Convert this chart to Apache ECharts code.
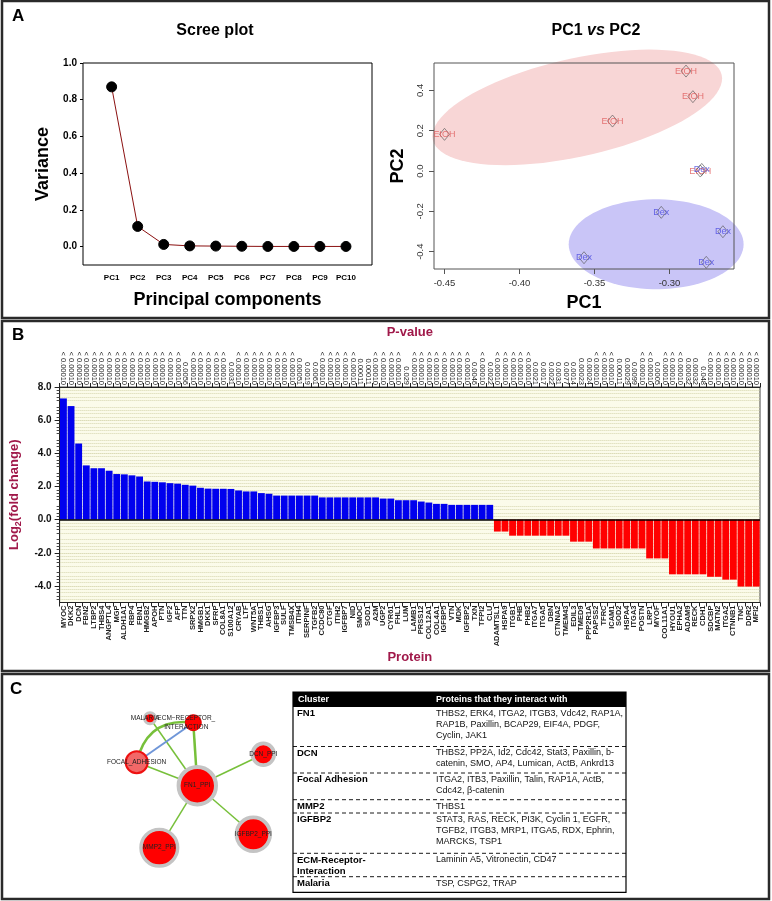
<!DOCTYPE html>
<html>
<head>
<meta charset="utf-8">
<script src="https://cdn.jsdelivr.net/npm/echarts@6/dist/echarts.min.js"></script>
<style>
html, body { margin: 0; padding: 0; background: #fff; }
#container { width: 772px; height: 901px; }
</style>
</head>
<body>
<div id="container"></div>
<script>
var chartDom = document.getElementById('container');
var myChart = echarts.init(chartDom);
var font = 'Liberation Sans, Arial, sans-serif';
var option;

// ---- panel A: scree plot ----
var screeLabels = ['PC1', 'PC2', 'PC3', 'PC4', 'PC5', 'PC6', 'PC7', 'PC8', 'PC9', 'PC10'];
var screeVariance = [0.87, 0.11, 0.012, 0.004, 0.003, 0.002, 0.001, 0.001, 0.001, 0.001];
var screeTicks = [0, 0.2, 0.4, 0.6, 0.8, 1.0];

// ---- panel A: PC1 vs PC2 scores ----
var etohScores = [[-0.289, 0.496], [-0.2844, 0.369], [-0.338, 0.248], [-0.450, 0.182], [-0.2795, 0.0]];
var dexScores = [[-0.2785, 0.008], [-0.3055, -0.205], [-0.2644, -0.301], [-0.357, -0.430], [-0.2755, -0.453]];
// ellipse: centre, end of major axis, end of minor axis
var etohEllipse = [-0.3615, 0.3158, -0.2652, 0.4770, -0.3687, 0.5529];
var dexEllipse = [-0.3089, -0.3633, -0.2506, -0.3633, -0.3089, -0.1404];
var pc1Ticks = [-0.45, -0.40, -0.35, -0.30];
var pc2Ticks = [-0.4, -0.2, 0, 0.2, 0.4];

// ---- panel B ----
var proteins = ['MYOC', 'DKK2', 'DCN', 'FBN2', 'LTBP2', 'THBS4', 'ANGPTL4', 'MGP', 'ALDH1A1', 'RBP4',
  'FBN1', 'HMGB2', 'APOH', 'PTN', 'IGF2', 'AFP', 'TTN', 'SRPX2', 'HMGB1', 'DKK1',
  'SFRP', 'COL8A1', 'S100A12', 'CRYAB', 'LTF', 'WNT5A', 'THBS1', 'AHSG', 'IGFBP3', 'SULF',
  'TMSB4X', 'ITIH4', 'SERPINF', 'TGFB2', 'CCDC80', 'CTGF', 'ITIH2', 'IGFBP7', 'NID', 'SMOC',
  'SOD1', 'A2M', 'UGP2', 'CYR61', 'FHL1', 'LUM', 'LAMB1', 'PRSS12', 'COL12A1', 'COL4A1',
  'IGFBP5', 'VTN', 'MDK', 'IGFBP2', 'TXN', 'TFPI2', 'CLU', 'ADAMTSL1', 'HSPA9', 'ITGB1',
  'PHB', 'PHB2', 'ITGA7', 'ITGA5', 'DBN', 'CTNNA2', 'TMEM43', 'EDIL3', 'TMED9', 'PPP2R1A',
  'PAPSS2', 'TFRC', 'ICAM1', 'SOD2', 'HSPA4', 'ITGA3', 'POSTN', 'LRP1', 'MYOF', 'COL11A1',
  'HYOU1', 'EPHA2', 'ADAM9', 'RECK', 'CDH1', 'SDCBP', 'MATN2', 'ITGA2', 'CTNNB1', 'TNC',
  'DDR2', 'MFI2'];
var log2Fold = [7.31, 6.85, 4.59, 3.27, 3.1, 3.1, 2.95, 2.75, 2.73, 2.67,
  2.6, 2.3, 2.28, 2.25, 2.2, 2.17, 2.1, 2.05, 1.92, 1.87,
  1.86, 1.86, 1.85, 1.76, 1.7, 1.7, 1.6, 1.56, 1.45, 1.45,
  1.45, 1.45, 1.45, 1.45, 1.34, 1.34, 1.34, 1.34, 1.34, 1.34,
  1.34, 1.34, 1.27, 1.27, 1.17, 1.17, 1.17, 1.09, 1.03, 0.95,
  0.95, 0.89, 0.89, 0.89, 0.89, 0.89, 0.89, -0.72, -0.72, -0.97,
  -0.97, -0.97, -0.97, -0.97, -0.97, -0.97, -0.97, -1.33, -1.33, -1.33,
  -1.74, -1.74, -1.74, -1.74, -1.74, -1.74, -1.74, -2.34, -2.34, -2.34,
  -3.3, -3.3, -3.3, -3.3, -3.3, -3.45, -3.45, -3.62, -3.62, -4.04,
  -4.04, -4.04];
var L = '< 0.00010';
var pValues = [L, L, L, L, L, L, L, L, L, L,
  L, L, L, L, L, L, '0.0056', L, L, L,
  L, L, '0.0031', L, L, L, L, L, L, L,
  L, '0.00051', '0.0019', '0.0061', L, L, L, L, L, '0.00011',
  '0.00011', L, L, L, L, '0.029', L, L, L, L,
  L, L, L, L, '0.0046', L, '0.0022', L, L, L,
  L, L, '0.0021', '0.0017', '0.0022', '0.0031', '0.0077', '0.0014', '0.00023', '0.00024',
  L, L, L, '0.00011', '0.00029', '0.0099', L, L, '0.0005', L,
  L, L, '0.00032', '0.00032', '0.048', L, L, L, L, L,
  L, L];
var foldTicks = [-4, -2, 0, 2, 4, 6, 8];

// ---- panel C: network ----
var netNames = ['FN1_PPI', 'DCN_PPI', 'IGFBP2_PPI', 'MMP2_PPI', 'FOCAL_ADHESION', 'ECM_RECEPTOR_INTERACTION', 'MALARIA'];
var netLabels = ['FN1_PPI', 'DCN_PPI', 'IGFBP2_PPI', 'MMP2_PPI', 'FOCAL_ADHESION', 'ECM\u2212RECEPTOR_\nINTERACTION', 'MALARIA'];
var netLinks = [
  ['FN1_PPI', 'MALARIA'], ['FN1_PPI', 'ECM_RECEPTOR_INTERACTION'], ['FN1_PPI', 'FOCAL_ADHESION'],
  ['FN1_PPI', 'DCN_PPI'], ['FN1_PPI', 'IGFBP2_PPI'], ['FN1_PPI', 'MMP2_PPI'],
  ['FOCAL_ADHESION', 'ECM_RECEPTOR_INTERACTION'], ['FOCAL_ADHESION', 'ECM_RECEPTOR_INTERACTION']
];

// ---- panel C: table ----
var clusters = ['FN1', 'DCN', 'Focal Adhesion', 'MMP2', 'IGFBP2', 'ECM-Receptor-\nInteraction', 'Malaria'];
var partners = [
  'THBS2, ERK4, ITGA2, ITGB3, Vdc42, RAP1A,\nRAP1B, Paxillin, BCAP29, EIF4A, PDGF,\nCyclin, JAK1',
  'THBS2, PP2A, Id2, Cdc42, Stat3, Paxillin, b-\ncatenin, SMO, AP4, Lumican, ActB, Ankrd13',
  'ITGA2, ITB3, Paxillin, Talin, RAP1A, ActB,\nCdc42, \u03b2-catenin',
  'THBS1',
  'STAT3, RAS, RECK, PI3K, Cyclin 1, EGFR,\nTGFB2, ITGB3, MRP1, ITGA5, RDX, Ephrin,\nMARCKS, TSP1',
  'Laminin A5, Vitronectin, CD47',
  'TSP, CSPG2, TRAP'
];

// layout of the network (pixel positions on the page) and node looks
var netLayout = {
  'FN1_PPI': [197.3, 785.7], 'DCN_PPI': [263.3, 754.3], 'IGFBP2_PPI': [253.3, 834.3],
  'MMP2_PPI': [159.3, 847.7], 'FOCAL_ADHESION': [136.7, 762.3],
  'ECM_RECEPTOR_INTERACTION': [193.3, 722.7], 'MALARIA': [150, 718.3]
};
var nodeLook = {
  'FN1_PPI': { size: 37.4, color: '#ff0000', border: '#c4c4c4', bw: 4 },
  'DCN_PPI': { size: 21.7, color: '#ff0000', border: '#c4c4c4', bw: 3.7 },
  'IGFBP2_PPI': { size: 33.7, color: '#ff0000', border: '#c4c4c4', bw: 3.7 },
  'MMP2_PPI': { size: 36.7, color: '#ff0000', border: '#c4c4c4', bw: 3.4 },
  'FOCAL_ADHESION': { size: 22, color: '#f26868', border: '#ee1111', bw: 2 },
  'ECM_RECEPTOR_INTERACTION': { size: 16, color: '#ff0000', border: '#e00000', bw: 1 },
  'MALARIA': { size: 11, color: '#ff0000', border: '#c4c4c4', bw: 3 }
};
var labelShift = { 'ECM_RECEPTOR_INTERACTION': [-7, 0], 'MALARIA': [-5, 0] };

function renderEllipse(params, api) {
  var c = api.coord([api.value(0), api.value(1)]);
  var m = api.coord([api.value(2), api.value(3)]);
  var n = api.coord([api.value(4), api.value(5)]);
  var pts = [];
  for (var k = 0; k < 90; k++) {
    var t = k / 90 * Math.PI * 2;
    pts.push([
      c[0] + Math.cos(t) * (m[0] - c[0]) + Math.sin(t) * (n[0] - c[0]),
      c[1] + Math.cos(t) * (m[1] - c[1]) + Math.sin(t) * (n[1] - c[1])
    ]);
  }
  return { type: 'polygon', shape: { points: pts }, style: { fill: api.visual('color') } };
}

// ---- static page elements: frames, letters, titles, table ----
var graphics = [];
[[2, 1, 767, 317], [2, 321, 767, 350], [2, 674, 767, 225]].forEach(function (r) {
  graphics.push({ type: 'rect', z: 20, shape: { x: r[0], y: r[1], width: r[2], height: r[3] },
    style: { fill: 'none', stroke: '#2a2a2a', lineWidth: 2.5 } });
});
[['A', 12, 8], ['B', 12, 327], ['C', 10, 681]].forEach(function (p) {
  graphics.push({ type: 'text', z: 20, style: { text: p[0], x: p[1], y: p[2], fill: '#000',
    font: 'bold 17px ' + font } });
});
graphics.push({ type: 'text', z: 20, style: { text: 'Scree plot', x: 215, y: 31, fill: '#000',
  font: 'bold 16px ' + font, align: 'center', verticalAlign: 'middle', textAlign: 'center', textVerticalAlign: 'middle' } });
graphics.push({ type: 'text', z: 20, style: { text: '{b|PC1 }{i|vs}{b| PC2}', x: 596, y: 31,
  align: 'center', verticalAlign: 'middle', textAlign: 'center', textVerticalAlign: 'middle',
  rich: { b: { font: 'bold 16px ' + font, fill: '#000' }, i: { font: 'italic bold 16px ' + font, fill: '#000' } } } });

var tX = 293, tW = 333, tTop = 692, tBottom = 892.3;
var rowTops = [707, 746.5, 773, 799.7, 813, 853.3, 876.7];
graphics.push({ type: 'rect', z: 10, shape: { x: tX, y: tTop, width: tW, height: tBottom - tTop },
  style: { fill: '#fff', stroke: '#000', lineWidth: 1.2 } });
graphics.push({ type: 'rect', z: 11, shape: { x: tX, y: tTop, width: tW, height: rowTops[0] - tTop },
  style: { fill: '#000' } });
graphics.push({ type: 'text', z: 12, style: { text: 'Cluster', x: tX + 5, y: (tTop + rowTops[0]) / 2,
  fill: '#fff', font: 'bold 9px ' + font, verticalAlign: 'middle', textVerticalAlign: 'middle' } });
graphics.push({ type: 'text', z: 12, style: { text: 'Proteins that they interact with', x: 436, y: (tTop + rowTops[0]) / 2,
  fill: '#fff', font: 'bold 9px ' + font, verticalAlign: 'middle', textVerticalAlign: 'middle' } });
for (var r = 0; r < clusters.length; r++) {
  if (r > 0) {
    graphics.push({ type: 'line', z: 11, shape: { x1: tX, y1: rowTops[r], x2: tX + tW, y2: rowTops[r] },
      style: { stroke: '#000', lineWidth: 0.9, lineDash: [4, 3] } });
  }
  graphics.push({ type: 'text', z: 12, style: { text: clusters[r], x: tX + 4, y: rowTops[r] + 1,
    fill: '#000', font: 'bold 9.5px ' + font, lineHeight: 11.4, verticalAlign: 'top', textVerticalAlign: 'top' } });
  graphics.push({ type: 'text', z: 12, style: { text: partners[r], x: 436, y: rowTops[r] + 1,
    fill: '#111', font: '9px ' + font, lineHeight: 11, verticalAlign: 'top', textVerticalAlign: 'top' } });
}

option = {
  animation: false,
  backgroundColor: '#fff',
  textStyle: { fontFamily: font },
  grid: [
    { left: 83, top: 63, width: 289, height: 202, show: true, borderColor: '#000', borderWidth: 1, backgroundColor: 'transparent' },
    { left: 434, top: 63, width: 300, height: 206, show: true, borderColor: '#555', borderWidth: 1, backgroundColor: 'transparent' },
    { left: 59, top: 387, width: 701, height: 215.5, show: true, borderColor: '#444', borderWidth: 1, backgroundColor: '#fbfbea' },
    { left: 0, top: 0, width: 772, height: 901, show: false }
  ],
  xAxis: [
    {
      gridIndex: 0, type: 'value', min: -0.1, max: 11,
      name: 'Principal components', nameLocation: 'middle', nameGap: 26,
      nameTextStyle: { fontSize: 18, fontWeight: 'bold', color: '#000' },
      axisLine: { show: false, onZero: false }, splitLine: { show: false },
      axisTick: { show: false },
      axisLabel: { customValues: [1, 2, 3, 4, 5, 6, 7, 8, 9, 10], margin: 9, fontSize: 8, fontWeight: 'bold', color: '#000',
        formatter: function (v) { return screeLabels[Math.round(v) - 1]; } }
    },
    {
      gridIndex: 1, type: 'value', min: -0.457, max: -0.257,
      name: 'PC1', nameLocation: 'middle', nameGap: 25,
      nameTextStyle: { fontSize: 18, fontWeight: 'bold', color: '#000' },
      axisLine: { show: false, onZero: false }, splitLine: { show: false },
      axisTick: { show: true, length: 5, customValues: pc1Ticks, lineStyle: { color: '#555' } },
      axisLabel: { customValues: pc1Ticks, margin: 9, fontSize: 9.5, color: '#333',
        formatter: function (v) { return v.toFixed(2); } }
    },
    {
      gridIndex: 2, type: 'category', data: proteins, position: 'bottom',
      name: 'Protein', nameLocation: 'middle', nameGap: 48,
      nameTextStyle: { fontSize: 13, fontWeight: 'bold', color: '#a0194a' },
      axisLine: { show: true, onZero: false, lineStyle: { color: '#222' } },
      axisTick: { show: true, length: 4, lineStyle: { color: '#222' } },
      axisLabel: { interval: 0, rotate: 90, fontSize: 7.5, fontWeight: 'bold', color: '#222', margin: 3 }
    },
    {
      gridIndex: 2, type: 'category', data: pValues, position: 'top',
      name: 'P-value', nameLocation: 'middle', nameGap: 48,
      nameTextStyle: { fontSize: 13, fontWeight: 'bold', color: '#a0194a' },
      axisLine: { show: true, onZero: false, lineStyle: { color: '#222' } },
      axisTick: { show: true, length: 4, lineStyle: { color: '#222' } },
      axisLabel: { interval: 0, rotate: 90, fontSize: 7.5, color: '#222', margin: 2 }
    },
    { gridIndex: 3, type: 'value', min: 0, max: 772, show: false }
  ],
  yAxis: [
    {
      gridIndex: 0, type: 'value', min: -0.1, max: 1.0,
      name: 'Variance', nameLocation: 'middle', nameGap: 31,
      nameTextStyle: { fontSize: 18, fontWeight: 'bold', color: '#000' },
      axisLine: { show: false, onZero: false }, splitLine: { show: false },
      axisTick: { show: true, length: 3, customValues: screeTicks, lineStyle: { color: '#000' } },
      axisLabel: { customValues: screeTicks, margin: 6, fontSize: 10, fontWeight: 'bold', color: '#000',
        formatter: function (v) { return v.toFixed(1); } }
    },
    {
      gridIndex: 1, type: 'value', min: -0.486, max: 0.536,
      name: 'PC2', nameLocation: 'middle', nameGap: 27,
      nameTextStyle: { fontSize: 18, fontWeight: 'bold', color: '#000' },
      axisLine: { show: false, onZero: false }, splitLine: { show: false },
      axisTick: { show: true, length: 5, customValues: pc2Ticks, lineStyle: { color: '#555' } },
      axisLabel: { customValues: pc2Ticks, rotate: 90, margin: 9, fontSize: 9.5, color: '#333',
        formatter: function (v) { return v.toFixed(1); } }
    },
    {
      gridIndex: 2, type: 'value', min: -5, max: 8, interval: 1,
      name: '{a|Log}{s|2}{a|(fold change)}', nameLocation: 'middle', nameGap: 36,
      nameTextStyle: { rich: {
        a: { fontSize: 13, fontWeight: 'bold', color: '#a0194a', lineHeight: 18 },
        s: { fontSize: 9, fontWeight: 'bold', color: '#a0194a', lineHeight: 12, verticalAlign: 'bottom' }
      } },
      axisLine: { show: true, onZero: false, lineStyle: { color: '#222' } },
      axisTick: { show: true, length: 5, customValues: foldTicks, lineStyle: { color: '#222' } },
      minorTick: { show: true, splitNumber: 5, length: 3, lineStyle: { color: '#444' } },
      axisLabel: { customValues: foldTicks, margin: 8, fontSize: 10, fontWeight: 'bold', color: '#111',
        formatter: function (v) { return v.toFixed(1); } },
      splitLine: { show: true, lineStyle: { color: '#c9c99a', type: 'dotted', width: 1 } },
      minorSplitLine: { show: true, lineStyle: { color: '#d4d4ad', type: 'dotted', width: 1 } }
    },
    { gridIndex: 3, type: 'value', min: 0, max: 901, inverse: true, show: false }
  ],
  series: [
    {
      name: 'variance', type: 'line', xAxisIndex: 0, yAxisIndex: 0,
      data: screeVariance.map(function (v, i) { return [i + 1, v]; }),
      lineStyle: { color: '#8b1010', width: 1 },
      symbol: 'circle', symbolSize: 10,
      itemStyle: { color: '#000', borderColor: '#000' }
    },
    {
      name: 'EtOH ellipse', type: 'custom', xAxisIndex: 1, yAxisIndex: 1, clip: false, z: -1,
      renderItem: renderEllipse, itemStyle: { color: '#f8d6d6' }, data: [etohEllipse], silent: true
    },
    {
      name: 'Dex ellipse', type: 'custom', xAxisIndex: 1, yAxisIndex: 1, clip: false, z: -1,
      renderItem: renderEllipse, itemStyle: { color: '#c9c5f7' }, data: [dexEllipse], silent: true
    },
    {
      name: 'EtOH', type: 'scatter', xAxisIndex: 1, yAxisIndex: 1, data: etohScores,
      symbol: 'diamond', symbolSize: [10, 12],
      itemStyle: { color: 'rgba(0,0,0,0)', borderColor: '#555', borderWidth: 0.8 },
      label: { show: true, position: 'inside', formatter: 'EtOH', color: '#e05a5a', fontSize: 9 }
    },
    {
      name: 'Dex', type: 'scatter', xAxisIndex: 1, yAxisIndex: 1, data: dexScores,
      symbol: 'diamond', symbolSize: [10, 12],
      itemStyle: { color: 'rgba(0,0,0,0)', borderColor: '#555', borderWidth: 0.8 },
      label: { show: true, position: 'inside', formatter: 'Dex', color: '#4a4ae0', fontSize: 9 }
    },
    {
      name: 'log2 fold change', type: 'bar', xAxisIndex: 2, yAxisIndex: 2,
      data: log2Fold, barCategoryGap: '10%',
      itemStyle: { color: function (p) { return p.value >= 0 ? '#0000ee' : '#ff0000'; } },
      markLine: { silent: true, symbol: 'none', label: { show: false },
        lineStyle: { color: '#000', width: 1.5, type: 'solid' }, data: [{ yAxis: 0 }] }
    },
    {
      name: 'network', type: 'graph', coordinateSystem: 'cartesian2d', xAxisIndex: 4, yAxisIndex: 3,
      data: netNames.map(function (n, i) {
        var look = nodeLook[n];
        return {
          name: n, value: netLayout[n], symbolSize: look.size,
          itemStyle: { color: look.color, borderColor: look.border, borderWidth: look.bw },
          label: { show: true, position: 'inside', formatter: netLabels[i], fontSize: 6.5, color: '#222',
            lineHeight: 9, offset: labelShift[n] || [0, 0] }
        };
      }),
      links: netLinks.map(function (l, i) {
        var style = { color: '#77c03a', width: 1.5, curveness: 0 };
        if (l[1] === 'ECM_RECEPTOR_INTERACTION' && l[0] === 'FN1_PPI') style.width = 2.5;
        if (l[0] === 'FOCAL_ADHESION') {
          style = i === 6 ? { color: '#77c03a', width: 2.5, curveness: 0.45 } : { color: '#6f96d8', width: 2, curveness: 0 };
        }
        return { source: l[0], target: l[1], lineStyle: style };
      }),
      lineStyle: { opacity: 1 },
      emphasis: { disabled: true }
    }
  ],
  graphic: { elements: graphics }
};

option && myChart.setOption(option);
</script>
</body>
</html>
